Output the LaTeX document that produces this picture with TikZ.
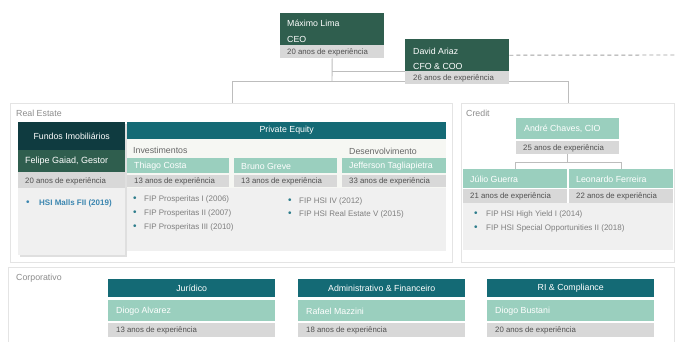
\documentclass[tikz,border=0pt]{standalone}
\usepackage{fontspec}
\setmainfont{Liberation Sans}
\usetikzlibrary{shadows}
\definecolor{dkgreen}{HTML}{2F5E4E}
\definecolor{dkteal}{HTML}{0F3B40}
\definecolor{hteal}{HTML}{146A75}
\definecolor{ltgreen}{HTML}{9ACFBE}
\definecolor{bandgrey}{HTML}{D8D8D8}
\definecolor{panelgrey}{HTML}{F0F0F0}
\definecolor{pebg}{HTML}{F6F7F3}
\definecolor{linegrey}{HTML}{BDBDBD}
\definecolor{areaborder}{HTML}{E4E4E4}
\definecolor{lblgrey}{HTML}{8C8C8C}
\definecolor{exgrey}{HTML}{505050}
\definecolor{txtgrey}{HTML}{7F7F7F}
\definecolor{bulletc}{HTML}{2E7D8C}
\definecolor{mallsblue}{HTML}{3B86B0}
\tikzset{
  box/.style={rectangle, inner sep=0pt, anchor=north west, draw=none},
  area/.style={box, draw=areaborder, fill=white, line width=0.7pt},
  nm/.style={font=\fontsize{8.8}{10}\selectfont, text=white, anchor=west, inner sep=0pt},
  hd/.style={font=\fontsize{8.8}{10}\selectfont, text=white, inner sep=0pt},
  ex/.style={font=\fontsize{7.8}{9}\selectfont, text=exgrey, anchor=west, inner sep=0pt},
  bl/.style={font=\fontsize{8}{9}\selectfont, text=txtgrey, anchor=west, inner sep=0pt},
  dotb/.style={font=\fontsize{10}{10}\selectfont, text=bulletc, anchor=west, inner sep=0pt},
  lbl/.style={font=\fontsize{8.8}{10}\selectfont, text=lblgrey, anchor=west, inner sep=0pt},
  sub/.style={font=\fontsize{8.8}{10}\selectfont, text=black!60, anchor=west, inner sep=0pt},
  conn/.style={draw=linegrey, line width=0.9pt},
}
\begin{document}
\begin{tikzpicture}[x=1pt, y=-1pt]
\useasboundingbox[fill=white] (0,0) rectangle (676,341);

% ---------- areas ----------
\node[area, minimum width=442pt, minimum height=159pt] (reArea) at (10,103) {};
\node[area, minimum width=213pt, minimum height=159pt] (crArea) at (461,103) {};
\node[area, minimum width=666pt, minimum height=90pt] (coArea) at (8,267) {};
\node[lbl] (reLbl) at (16,113) {Real Estate};
\node[lbl] (crLbl) at (466,113) {Credit};
\node[lbl] (coLbl) at (16,278) {Corporativo};

% ---------- top connectors ----------
\node[box, fill=dkgreen, minimum width=104pt, minimum height=32pt] (ceo) at (280,13) {};
\node[box, fill=bandgrey, minimum width=104pt, minimum height=13pt] (ceoexp) at (280,45) {};
\coordinate (bus) at (332,81);
\coordinate (busL) at (232,81);
\coordinate (busR) at (568,81);
\coordinate (dashEnd) at (676,55);
\node[box, minimum width=104pt, minimum height=32pt] (cfo) at (405,39) {};
\draw[conn] (ceoexp.south) -- (bus);
\draw[conn] (ceoexp.south |- cfo.south west) -- (cfo.south west);
\draw[conn] (busL) -- (busR);
\draw[conn] (busL) -- (busL |- reArea.north);
\draw[conn] (busR) -- (busR |- crArea.north);
\draw[draw=linegrey!85!black, line width=0.9pt, dash pattern=on 4pt off 3pt] (cfo.east) -- (dashEnd);

% ---------- CEO ----------
\node[nm] (ceoName) at (287,23) {Máximo Lima};
\node[nm] (ceoTitle) at (287,39) {CEO};
\node[ex] (ceoExpT) at (287,52) {20 anos de experiência};

% ---------- CFO ----------
\fill[dkgreen] (cfo.north west) rectangle (cfo.south east);
\node[box, fill=bandgrey, minimum width=104pt, minimum height=13pt] (cfoexp) at (405,71) {};
\node[nm] (cfoName) at (413,51) {David Ariaz};
\node[nm] (cfoTitle) at (413,66) {CFO \& COO};
\node[ex] (cfoExpT) at (413,78) {26 anos de experiência};

% ---------- Real Estate: Fundos ----------
\node[box, fill=panelgrey, minimum width=107pt, minimum height=133pt,
      drop shadow={shadow xshift=1.5pt, shadow yshift=-1.5pt, opacity=0.25}] (fiPanel) at (18,122) {};
\node[box, fill=dkteal, minimum width=107pt, minimum height=28pt] (fi) at (18,122) {};
\node[hd] (fiT) at (fi.center) {Fundos Imobiliários};
\node[box, fill=dkgreen, minimum width=107pt, minimum height=22pt] (fel) at (18,150) {};
\node[nm, font=\fontsize{9}{10}\selectfont] (felT) at (25,161) {Felipe Gaiad, Gestor};
\node[box, fill=bandgrey, minimum width=107pt, minimum height=16pt] (felexp) at (18,172) {};
\node[ex] (felExpT) at (25,181) {20 anos de experiência};
\node[dotb, text=mallsblue] (mallsDot) at (26,203) {•};
\node[bl, text=mallsblue, font=\bfseries\fontsize{8}{9}\selectfont] (mallsT) at (39,203) {HSI Malls FII (2019)};

% ---------- Private Equity ----------
\node[box, fill=pebg, minimum width=319pt, minimum height=129pt] (peBg) at (127,122) {};
\node[box, fill=hteal, minimum width=319pt, minimum height=17pt] (pe) at (127,122) {};
\node[hd] (peT) at (pe.center) {Private Equity};
\node[sub] (invT) at (133,150) {Investimentos};
\node[sub] (desT) at (349,151) {Desenvolvimento};

\node[box, fill=ltgreen, minimum width=102pt, minimum height=15pt] (thi) at (127,158) {};
\node[box, fill=ltgreen, minimum width=103pt, minimum height=15pt] (bru) at (234,158) {};
\node[box, fill=ltgreen, minimum width=104pt, minimum height=15pt] (jef) at (342,158) {};
\node[nm] (thiT) at (134,166) {Thiago Costa};
\node[nm] (bruT) at (241,166) {Bruno Greve};
\node[nm] (jefT) at (349,166) {Jefferson Tagliapietra};
\node[box, fill=bandgrey, minimum width=102pt, minimum height=12pt] (thiexp) at (127,175) {};
\node[box, fill=bandgrey, minimum width=103pt, minimum height=12pt] (bruexp) at (234,175) {};
\node[box, fill=bandgrey, minimum width=104pt, minimum height=12pt] (jefexp) at (342,175) {};
\node[ex] (thiExpT) at (134,181.5) {13 anos de experiência};
\node[ex] (bruExpT) at (241,181.5) {13 anos de experiência};
\node[ex] (jefExpT) at (349,181.5) {33 anos de experiência};

\node[box, fill=panelgrey, minimum width=319pt, minimum height=63pt] (pePanel) at (127,188) {};
\node[dotb] (pd1) at (133,199) {•};
\node[dotb] (pd2) at (133,213) {•};
\node[dotb] (pd3) at (133,227) {•};
\node[bl] (pt1) at (144,199) {FIP Prosperitas I (2006)};
\node[bl] (pt2) at (144,213) {FIP Prosperitas II (2007)};
\node[bl] (pt3) at (144,227) {FIP Prosperitas III (2010)};
\node[dotb] (hd1) at (288,201) {•};
\node[dotb] (hd2) at (288,214) {•};
\node[bl] (ht1) at (299,201) {FIP HSI IV (2012)};
\node[bl] (ht2) at (299,214) {FIP HSI Real Estate V (2015)};

% ---------- Credit ----------
\node[box, fill=ltgreen, minimum width=103pt, minimum height=21pt] (and) at (516,118) {};
\node[nm] (andT) at (524,129) {André Chaves, CIO};
\node[box, fill=bandgrey, minimum width=103pt, minimum height=13pt] (andexp) at (516,141) {};
\node[ex] (andExpT) at (523,148) {25 anos de experiência};
\node[box, fill=ltgreen, minimum width=104pt, minimum height=19pt] (jul) at (463,169) {};
\node[box, fill=ltgreen, minimum width=104pt, minimum height=19pt] (leo) at (569,169) {};
\draw[conn] (andexp.south) -- ++(0,8) -| (jul.north);
\draw[conn] (andexp.south) -- ++(0,8) -| (leo.north);
\node[nm] (julT) at (470,179) {Júlio Guerra};
\node[nm] (leoT) at (576,179) {Leonardo Ferreira};
\node[box, fill=bandgrey, minimum width=104pt, minimum height=14pt] (julexp) at (463,189) {};
\node[box, fill=bandgrey, minimum width=104pt, minimum height=14pt] (leoexp) at (569,189) {};
\node[ex] (julExpT) at (470,196.5) {21 anos de experiência};
\node[ex] (leoExpT) at (576,196.5) {22 anos de experiência};
\node[box, fill=panelgrey, minimum width=210pt, minimum height=47pt] (crPanel) at (463,203) {};
\node[dotb] (cd1) at (474,214) {•};
\node[dotb] (cd2) at (474,228) {•};
\node[bl] (ct1) at (486,214) {FIP HSI High Yield I (2014)};
\node[bl] (ct2) at (486,228) {FIP HSI Special Opportunities II (2018)};

% ---------- Corporativo ----------
\node[box, fill=hteal, minimum width=167pt, minimum height=18pt] (jur) at (108,279) {};
\node[box, fill=hteal, minimum width=167pt, minimum height=18pt] (adm) at (298,279) {};
\node[box, fill=hteal, minimum width=167pt, minimum height=18pt] (ri) at (487,279) {};
\node[hd] (jurT) at (jur.center) {Jurídico};
\node[hd] (admT) at (adm.center) {Administrativo \& Financeiro};
\node[hd] (riT) at (ri.center) {RI \& Compliance};
\node[box, fill=ltgreen, minimum width=167pt, minimum height=21pt] (jurN) at (108,300) {};
\node[box, fill=ltgreen, minimum width=167pt, minimum height=21pt] (admN) at (298,300) {};
\node[box, fill=ltgreen, minimum width=167pt, minimum height=21pt] (riN) at (487,300) {};
\node[nm] (jurNT) at (116,311) {Diogo Alvarez};
\node[nm] (admNT) at (306,311) {Rafael Mazzini};
\node[nm] (riNT) at (495,311) {Diogo Bustani};
\node[box, fill=bandgrey, minimum width=167pt, minimum height=14pt] (jurE) at (108,323) {};
\node[box, fill=bandgrey, minimum width=167pt, minimum height=14pt] (admE) at (298,323) {};
\node[box, fill=bandgrey, minimum width=167pt, minimum height=14pt] (riE) at (487,323) {};
\node[ex] (jurET) at (116,330) {13 anos de experiência};
\node[ex] (admET) at (306,330) {18 anos de experiência};
\node[ex] (riET) at (495,330) {20 anos de experiência};
\end{tikzpicture}
\end{document}
